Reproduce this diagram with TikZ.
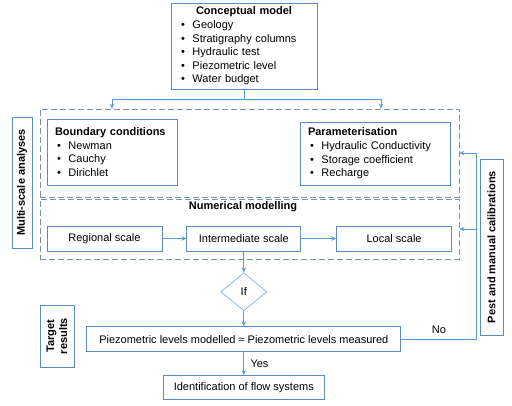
\documentclass[tikz,border=0pt]{standalone}
\usepackage{fontspec}
\setmainfont{Liberation Sans}
\usepackage{xcolor}
\usetikzlibrary{arrows.meta,positioning,shapes.geometric}

\definecolor{boxline}{HTML}{5A8AC6}
\definecolor{grpline}{HTML}{7A93B3}
\definecolor{arrline}{HTML}{5B9BD5}
\definecolor{condline}{HTML}{8DB4E2}

\newcommand\itm[1]{\hspace*{2pt}\makebox[11.5pt][l]{\textbullet}#1}

\begin{document}
\begin{tikzpicture}[
    x=1pt, y=-1pt,
    font=\fontsize{11}{13.6}\selectfont,
    box/.style={rectangle, draw=boxline, line width=0.8pt, inner sep=0pt, align=center},
    listbox/.style={box, align=left, inner xsep=8pt},
    grp/.style={rectangle, draw=grpline, line width=0.8pt, dash pattern=on 6pt off 3pt, inner sep=0pt},
    side/.style={box, rotate=90, font=\fontsize{11}{13}\selectfont\bfseries},
    cond/.style={diamond, draw=condline, line width=0.8pt, inner sep=0pt,
                 minimum width=46pt, minimum height=38pt},
    arr/.style={-{Stealth[length=5pt, width=4.5pt]}, line width=0.8pt, draw=arrline},
]
\useasboundingbox (0,0) rectangle (512,405);

% Conceptual model
\node[listbox, text width=130pt, minimum height=86pt] (concept) at (244,46)
  {{\centering\textbf{Conceptual model}\par}
   \itm{Geology}\\ \itm{Stratigraphy columns}\\ \itm{Hydraulic test}\\
   \itm{Piezometric level}\\ \itm{Water budget}};

% Inputs group
\node[grp, minimum width=419pt, minimum height=88pt] (inputs) at (249.5,153) {};
\node[listbox, text width=114pt, minimum height=66pt] (bound) at (112,152)
  {\textbf{Boundary conditions}\\ \itm{Newman}\\ \itm{Cauchy}\\ \itm{Dirichlet}};
\node[listbox, text width=134pt, minimum height=63pt] (param) at (375,153.5)
  {\textbf{Parameterisation}\\ \itm{Hydraulic Conductivity}\\ \itm{Storage coefficient}\\ \itm{Recharge}};

% Numerical modelling group
\node[grp, minimum width=419pt, minimum height=60pt] (nummod) at (249.5,229) {};
\node[font=\fontsize{11}{13.6}\selectfont\bfseries] (numtitle) at (243,207) {Numerical modelling};
\node[box, minimum width=115pt, minimum height=25pt] (regional) at (104.5,238.5) {Regional scale};
\node[box, minimum width=114pt, minimum height=25pt, right=24pt of regional] (inter) {Intermediate scale};
\node[box, minimum width=115pt, minimum height=25pt, right=35pt of inter] (local) {Local scale};

% Check and results
\node[cond, below=21pt of inter] (ifq) {If};
\node[box, minimum width=314pt, minimum height=25pt, below=15pt of ifq] (piezo)
  {Piezometric levels modelled ≈ Piezometric levels measured};
\node[box, minimum width=161pt, minimum height=24pt, below=23pt of piezo] (ident)
  {Identification of flow systems};

% Side labels
\node[side, minimum width=131pt, minimum height=20pt] (multi) at (22,182.5) {Multi-scale analyses};
\node[side, minimum width=62pt, minimum height=34pt] (target) at (57,336) {Target\\results};
\node[side, minimum width=176pt, minimum height=23pt] (pest) at (491.5,247) {Pest and manual calibrations};

% Arrows
\coordinate (split) at ([yshift=-10pt]concept.south);
\coordinate (pin) at ([xshift=6pt]param.north);
\draw[arr] (concept.south) -- (split) -| (bound.north |- inputs.north);
\draw[arr] (split) -| (pin |- inputs.north);
\draw[arr] (regional) -- (inter);
\draw[arr] (inter) -- (local);
\draw[arr] (inter.south) -- (ifq.north);
\draw[arr] (ifq.south) -- (piezo.north);
\draw[arr] (piezo.south) -- node[right, xshift=3pt] {Yes} (ident.north);

% Calibration loop
\coordinate (rx) at ([xshift=-3pt]pest.north);
\draw[arr] (piezo.east) -- node[above, yshift=2pt] {No} (rx |- piezo.east)
  -- (rx |- inputs.east) -- (inputs.east);
\draw[arr] (rx |- nummod.east) -- (nummod.east);
\end{tikzpicture}
\end{document}
